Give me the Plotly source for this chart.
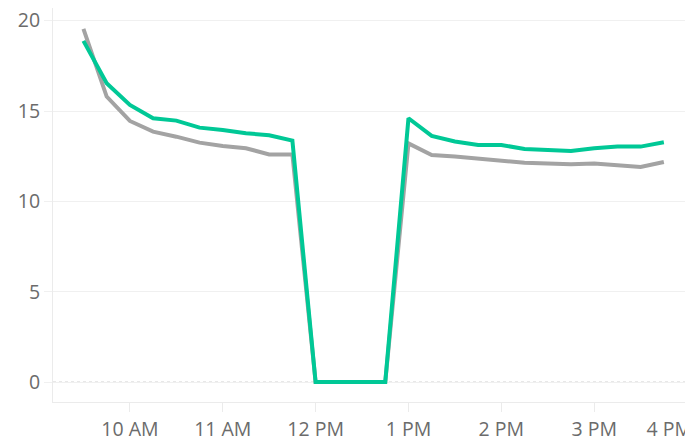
import plotly.graph_objects as go

times = ["09:30", "09:45", "10:00", "10:15", "10:30", "10:45", "11:00", "11:15", "11:30", "11:45",
         "12:00", "12:15", "12:30", "12:45",
         "13:00", "13:15", "13:30", "13:45", "14:00", "14:15", "14:30", "14:45", "15:00", "15:15", "15:30", "15:45"]

gray_values = [19.55, 15.8, 14.45, 13.86, 13.58, 13.25, 13.07, 12.94, 12.6, 12.6,
               0, 0, 0, 0,
               13.21, 12.57, 12.48, 12.37, 12.28, 12.14, 12.1, 12.05, 12.1, 11.98, 11.9, 12.18]

green_values = [18.88, 16.54, 15.34, 14.6, 14.47, 14.08, 13.95, 13.77, 13.66, 13.36,
                0, 0, 0, 0,
                14.6, 13.62, 13.31, 13.12, 13.12, 12.9, 12.85, 12.79, 12.94, 13.03, 13.03, 13.27]

tick_times = ["10:00", "11:00", "12:00", "13:00", "14:00", "15:00", "16:00"]
tick_labels = ["10 AM", "11 AM", "12 PM", "1 PM", "2 PM", "3 PM", "4 PM"]

y_ticks = [0, 5, 10, 15, 20]

day = "2024-01-01 "
x = [day + t for t in times]

# last label is pushed left (as in the reference) so it stays inside the window
tick_text = tick_labels[:-1] + [tick_labels[-1] + "\u00a0" * 7]

fig = go.Figure()
fig.add_trace(go.Scatter(x=x, y=gray_values, mode="lines",
                         line=dict(color="#a3a3a3", width=4), hoverinfo="skip", showlegend=False))
fig.add_trace(go.Scatter(x=x, y=green_values, mode="lines",
                         line=dict(color="#00c896", width=4), hoverinfo="skip", showlegend=False))

fig.add_shape(type="line", xref="paper", yref="y", x0=0, x1=1, y0=0, y1=0,
              line=dict(color="#c4c4c4", width=1, dash="dot"), layer="below")

font = dict(family="'Open Sans', Lato, sans-serif", size=19.5, color="#6b6b6b")

# The page body adds an 8px offset, so the figure is sized to fit the window.
fig.update_layout(
    width=685, height=430,
    margin=dict(l=45, r=0, t=0, b=36),
    paper_bgcolor="white", plot_bgcolor="white",
    font=font,
    xaxis=dict(
        type="date",
        automargin=False,
        range=[day + "09:10:20", day + "16:03:50"],
        tickvals=[day + t for t in tick_times],
        ticktext=tick_text,
        showgrid=False, zeroline=False,
        showline=True, linecolor="#ebebeb", linewidth=1,
        ticks="outside", ticklen=9, tickcolor="#ebebeb", tickwidth=1,
        ticklabelstandoff=1,
        ticklabeloverflow="allow",
        tickfont=font,
    ),
    yaxis=dict(
        automargin=False,
        range=[-1.1, 20.7],
        tickvals=y_ticks,
        showgrid=True, gridcolor="#f0f0f0", gridwidth=1,
        zeroline=False,
        showline=True, linecolor="#ebebeb", linewidth=1,
        ticks="outside", ticklen=8, tickcolor="#f0f0f0", tickwidth=1,
        ticklabeloverflow="allow",
        tickfont=font,
    ),
)

fig.write_html("out.html")
